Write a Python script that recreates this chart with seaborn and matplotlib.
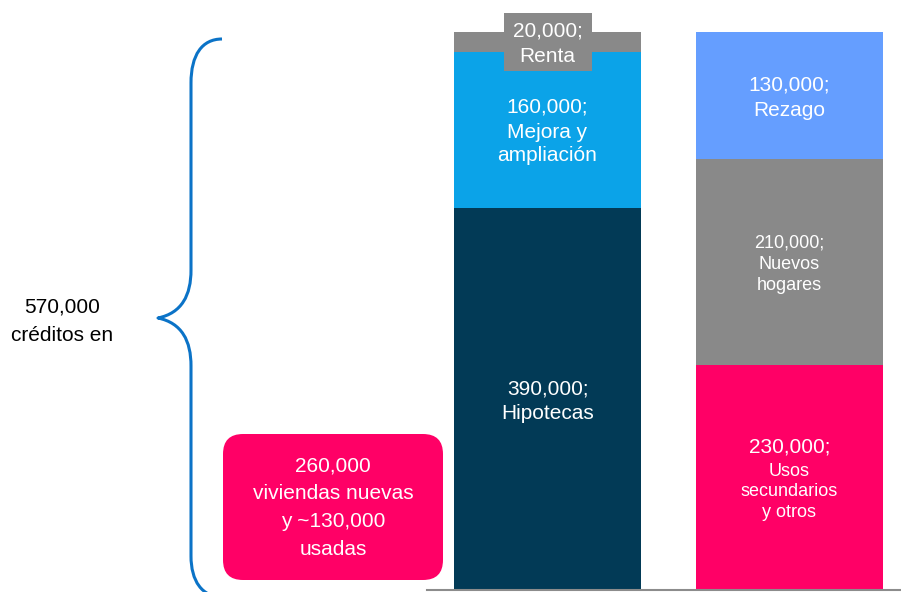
import numpy as np
import pandas as pd
import seaborn as sns
import matplotlib
matplotlib.use("Agg")
import matplotlib.pyplot as plt
from matplotlib.path import Path
from matplotlib.patches import PathPatch, FancyBboxPatch, Rectangle
from matplotlib.transforms import IdentityTransform

# ---- data -------------------------------------------------------------
barras = ["Créditos", "Demanda"]

seg_creditos = ["Hipotecas", "Mejora y\nampliación", "Renta"]
val_creditos = [390000, 160000, 20000]
col_creditos = ["#023A56", "#0BA3E8", "#898989"]

seg_demanda = ["Usos\nsecundarios\ny otros", "Nuevos\nhogares", "Rezago"]
val_demanda = [230000, 210000, 130000]
col_demanda = ["#FF0066", "#898989", "#659EFF"]

# font sizes (value line, name lines) for each segment label
tam_creditos = [(15, 15), (15, 15), (15, 15)]
tam_demanda = [(15, 13), (13, 13), (15, 15)]

texto_total = "570,000\ncréditos en"
texto_caja = "260,000\nviviendas nuevas\ny ~130,000\nusadas"

# ---- long table for the stacked bars ----------------------------------
filas = []
for barra, segs, vals, cols, tams in [
    (barras[0], seg_creditos, val_creditos, col_creditos, tam_creditos),
    (barras[1], seg_demanda, val_demanda, col_demanda, tam_demanda),
]:
    acum = np.cumsum(vals)
    for nivel, (s, v, c, t, a) in enumerate(zip(segs, vals, cols, tams, acum)):
        filas.append(dict(barra=barra, nivel=nivel, segmento=s, valor=v,
                          acum=a, base=a - v, color=c, tam_v=t[0], tam_n=t[1]))
df = pd.DataFrame(filas)
total = df.groupby("barra")["valor"].sum().max()

# ---- figure / layout (pixel-based) ------------------------------------
W_PX, H_PX, DPI = 901, 592, 100
CENTRO0_PX = 547.5      # centre of first bar
PASO_PX = 242.0         # distance between bar centres
ANCHO_PX = 187.0        # bar width
BASE_PY = 590.0         # baseline (from top)
TOPE_PY = 32.0          # top of the tallest stack (from top)
PASO_LINEA = 1.19       # line advance of segment labels, in font sizes
AJUSTE_PX = 2.0         # small downward nudge of segment labels

sns.set_style("white")
plt.rcParams["font.family"] = ["Liberation Sans", "DejaVu Sans"]

fig = plt.figure(figsize=(W_PX / DPI, H_PX / DPI), dpi=DPI)
ax = fig.add_axes([0, 0, 1, 1])

y_por_px = total / (BASE_PY - TOPE_PY)
ancho = ANCHO_PX / PASO_PX

# stacked bars: draw cumulative heights from the top level down
for nivel in sorted(df["nivel"].unique(), reverse=True):
    sub = df[df["nivel"] == nivel]
    sns.barplot(data=sub, x="barra", y="acum", hue="barra", order=barras,
                hue_order=barras, palette=dict(zip(sub["barra"], sub["color"])),
                width=ancho, saturation=1, errorbar=None, legend=False,
                linewidth=0, edgecolor="none", ax=ax)

xlim = (-CENTRO0_PX / PASO_PX, (W_PX - CENTRO0_PX) / PASO_PX)
ylim = (-(H_PX - BASE_PY) * y_por_px, BASE_PY * y_por_px)
ax.set_xlim(*xlim)
ax.set_ylim(*ylim)
ax.set(xlabel="", ylabel="", xticks=[], yticks=[])
for lado in ["left", "right", "top"]:
    ax.spines[lado].set_visible(False)
ax.spines["bottom"].set_position(("data", 0))
ax.spines["bottom"].set_bounds(xlim[0] + 427 / PASO_PX, xlim[1])
ax.spines["bottom"].set_color("#8C8C8C")
ax.spines["bottom"].set_linewidth(1.5)
ax.spines["bottom"].set_zorder(5)


def px_a_pt(p):
    return p * 72.0 / DPI


# label box behind the small top segment (Renta)
renta = df[(df["barra"] == barras[0]) & (df["nivel"] == 2)].iloc[0]
caja_w, caja_h = 88 / PASO_PX, 58 * y_por_px
cy = renta["base"] + renta["valor"] / 2
ax.add_patch(Rectangle((0 - caja_w / 2, cy - caja_h / 2), caja_w, caja_h,
                       facecolor="#898989", edgecolor="none", zorder=3))

# segment labels
for _, r in df.iterrows():
    xi = barras.index(r["barra"])
    yc = r["base"] + r["valor"] / 2
    nombres = r["segmento"].split("\n")
    k = len(nombres)
    hv = PASO_LINEA * r["tam_v"] * DPI / 72
    hn = PASO_LINEA * r["tam_n"] * DPI / 72
    T = hv + k * hn
    off_v = -T / 2 + hv / 2 + AJUSTE_PX
    off_n = -T / 2 + hv + k * hn / 2 + AJUSTE_PX
    ax.annotate(f"{r['valor']:,};", xy=(xi, yc), xytext=(0, -px_a_pt(off_v)),
                textcoords="offset points", ha="center", va="center",
                fontsize=r["tam_v"], color="white", zorder=4)
    ax.annotate(r["segmento"], xy=(xi, yc), xytext=(0, -px_a_pt(off_n)),
                textcoords="offset points", ha="center", va="center",
                fontsize=r["tam_n"], color="white", zorder=4,
                linespacing=1.29)

# curly brace grouping the total
ident = IdentityTransform()


def P(x, y):
    return (x, H_PX - y)


verts = [P(222, 39), P(202, 39), P(191, 55), P(191, 83),
         P(191, 270),
         P(191, 295), P(182, 313), P(158, 318),
         P(182, 323), P(191, 341), P(191, 366),
         P(191, 556),
         P(191, 581), P(202, 597), P(222, 597)]
codes = [Path.MOVETO, Path.CURVE4, Path.CURVE4, Path.CURVE4,
         Path.LINETO,
         Path.CURVE4, Path.CURVE4, Path.CURVE4,
         Path.CURVE4, Path.CURVE4, Path.CURVE4,
         Path.LINETO,
         Path.CURVE4, Path.CURVE4, Path.CURVE4]
fig.add_artist(PathPatch(Path(verts, codes), transform=ident, fill=False,
                         edgecolor="#0B73C7", linewidth=2.2,
                         capstyle="butt", joinstyle="round"))

fig.text(62 / W_PX, 1 - 321 / H_PX, texto_total, ha="center", va="center",
         fontsize=15, color="black", linespacing=1.62)

# highlighted note box
x0, y0, bw, bh = 223, 434, 220, 146
fig.add_artist(FancyBboxPatch(P(x0, y0 + bh), bw, bh,
                              boxstyle="round,pad=0,rounding_size=20",
                              transform=ident, facecolor="#FF0066",
                              edgecolor="none"))
fig.text((x0 + bw / 2) / W_PX, 1 - (y0 + bh / 2 + 0.5) / H_PX, texto_caja,
         ha="center", va="center", fontsize=15, color="white",
         linespacing=1.58)

fig.savefig("out.png", dpi=DPI)
